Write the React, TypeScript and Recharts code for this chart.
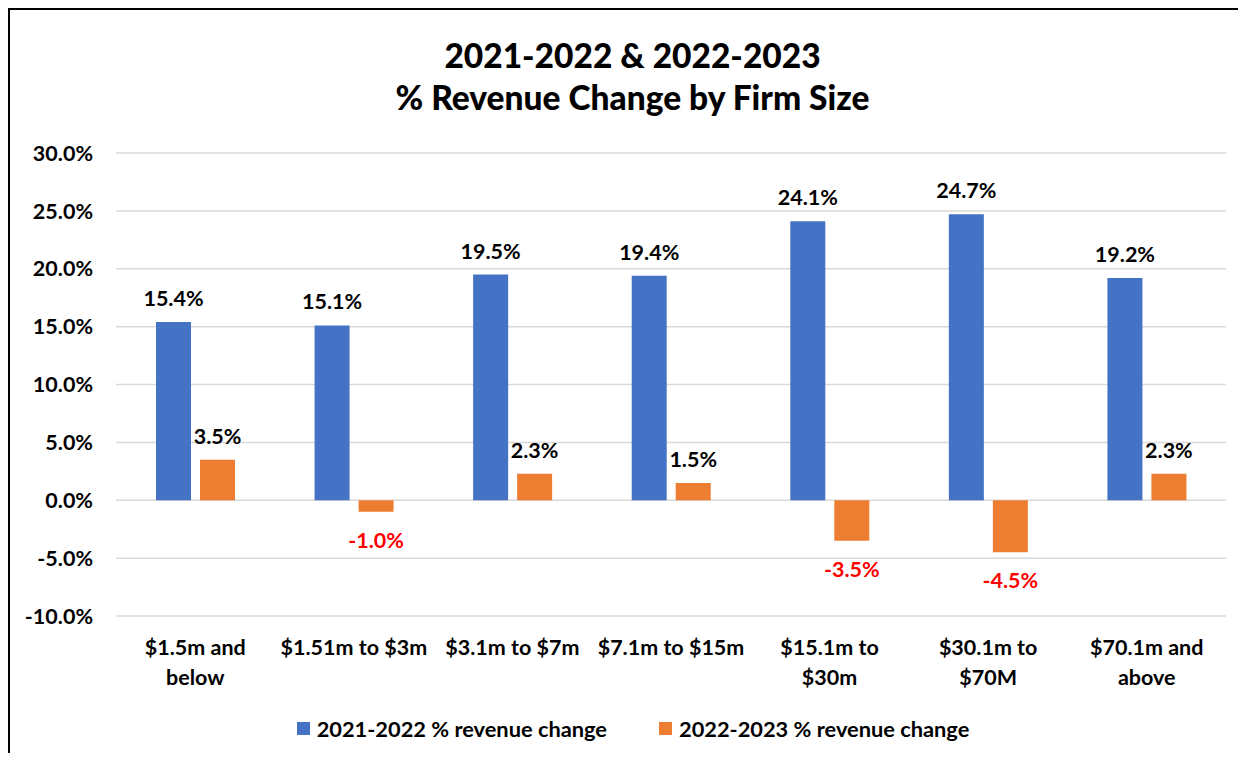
import { BarChart, Bar, XAxis, YAxis, CartesianGrid, Legend, LabelList } from 'recharts';

const categories = [
  '$1.5m and\nbelow',
  '$1.51m to $3m',
  '$3.1m to $7m',
  '$7.1m to $15m',
  '$15.1m to\n$30m',
  '$30.1m to\n$70M',
  '$70.1m and\nabove',
];
const change2122 = [15.4, 15.1, 19.5, 19.4, 24.1, 24.7, 19.2];
const change2223 = [3.5, -1.0, 2.3, 1.5, -3.5, -4.5, 2.3];
const yTicks = [-10, -5, 0, 5, 10, 15, 20, 25, 30];

const seriesNames = ['2021-2022 % revenue change', '2022-2023 % revenue change'];
const BLUE = '#4472C4';
const ORANGE = '#ED7D31';
const FONT = 'Lato, "DejaVu Sans", sans-serif';

const data = categories.map((name, i) => ({
  name,
  a: change2122[i],
  b: change2223[i],
}));

const pct = (v: number) => `${v.toFixed(1)}%`;

function BarLabel(props: any) {
  const { x, y, width, height, value } = props;
  const top = Math.min(y, y + height);
  const bottom = Math.max(y, y + height);
  const neg = value < 0;
  return (
    <text
      x={x + width / 2}
      y={neg ? bottom + 28 : top - 24}
      textAnchor="middle"
      dominantBaseline="central"
      fontFamily={FONT}
      fontWeight={700}
      fontSize={21.5}
      fill={neg ? '#FF0000' : '#000'}
    >
      {pct(value)}
    </text>
  );
}

function CategoryTick(props: any) {
  const { x, y, payload } = props;
  const lines = String(payload.value).split('\n');
  return (
    <g>
      {lines.map((line, i) => (
        <text
          key={i}
          x={x}
          y={y + 31 + i * 30}
          textAnchor="middle"
          dominantBaseline="central"
          fontFamily={FONT}
          fontWeight={700}
          fontSize={21.5}
          fill="#000"
        >
          {line}
        </text>
      ))}
    </g>
  );
}

function LegendContent() {
  const colors = [BLUE, ORANGE];
  return (
    <div
      style={{
        display: 'flex',
        justifyContent: 'center',
        alignItems: 'center',
        gap: 52,
        height: 40,
        fontFamily: FONT,
        fontWeight: 700,
        fontSize: 21.8,
        color: '#000',
      }}
    >
      {seriesNames.map((n, i) => (
        <div key={n} style={{ display: 'flex', alignItems: 'center' }}>
          <span style={{ width: 13, height: 13, background: colors[i], marginRight: 7 }} />
          <span>{n}</span>
        </div>
      ))}
    </div>
  );
}

export default function App() {
  return (
    <div style={{ width: 1238, height: 745, overflow: 'hidden', position: 'relative', fontFamily: FONT }}>
      <div
        style={{
          position: 'absolute',
          left: 0,
          top: 0,
          width: 1260,
          height: 800,
          borderLeft: '2px solid #000',
          borderTop: '2px solid #000',
          boxSizing: 'border-box',
        }}
      >
        <div
          style={{
            position: 'absolute',
            left: 0,
            top: 24,
            width: 1245,
            textAlign: 'center',
            fontWeight: 900,
            fontSize: 33.5,
            lineHeight: '42px',
            color: '#000',
            zIndex: 2,
          }}
        >
          <div>2021-2022 &amp; 2022-2023</div>
          <div>% Revenue Change by Firm Size</div>
        </div>
        <BarChart
          width={1246}
          height={745}
          data={data}
          margin={{ top: 143, right: 30, bottom: 7, left: 0 }}
          barSize={35}
          barGap={9}
        >
          <CartesianGrid vertical={false} stroke="#d9d9d9" strokeWidth={1.5} />
          <XAxis
            dataKey="name"
            axisLine={false}
            tickLine={false}
            tickSize={0}
            tickMargin={0}
            height={92}
            interval={0}
            tick={<CategoryTick />}
          />
          <YAxis
            width={106}
            domain={[-10, 30]}
            ticks={yTicks}
            axisLine={false}
            tickLine={false}
            tickSize={0}
            tickMargin={23}
            tickFormatter={pct}
            tick={{ fontFamily: FONT, fontWeight: 700, fontSize: 21.5, fill: '#000' }}
          />
          <Legend
            verticalAlign="bottom"
            wrapperStyle={{ left: 0, width: 1246 }}
            content={<LegendContent />}
          />
          <Bar dataKey="a" name={seriesNames[0]} fill={BLUE} isAnimationActive={false}>
            <LabelList dataKey="a" content={<BarLabel />} />
          </Bar>
          <Bar dataKey="b" name={seriesNames[1]} fill={ORANGE} isAnimationActive={false}>
            <LabelList dataKey="b" content={<BarLabel />} />
          </Bar>
        </BarChart>
      </div>
    </div>
  );
}
